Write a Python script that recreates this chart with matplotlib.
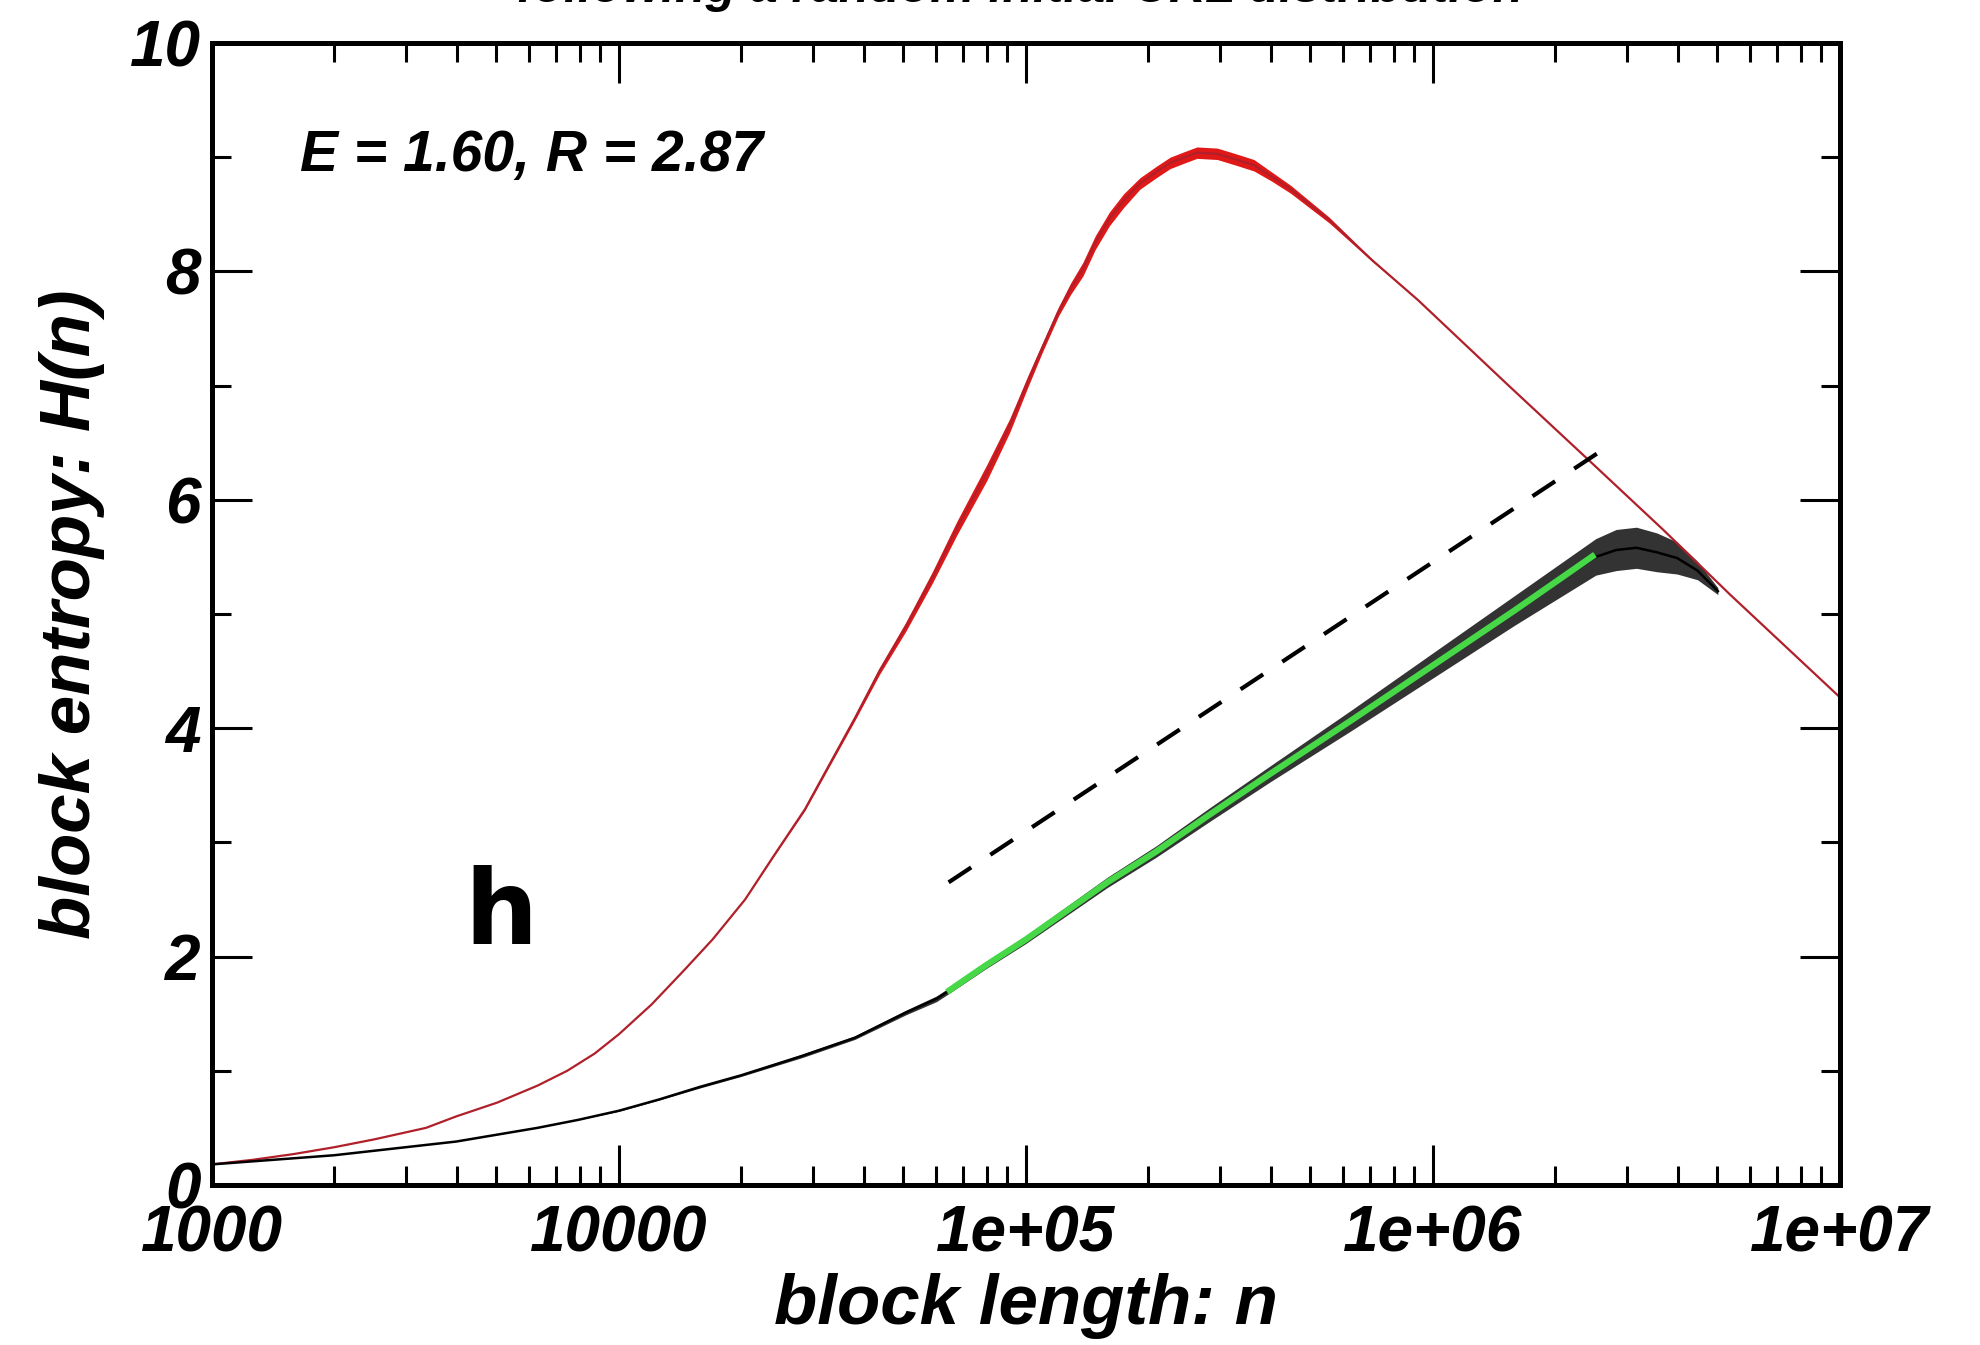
import numpy as np
import matplotlib
matplotlib.use("Agg")
import matplotlib.pyplot as plt
from matplotlib.ticker import LogLocator, NullFormatter, MultipleLocator

# red curve: log10(n), H(n), half-width of the noise band
red_logn = [3.0, 3.1, 3.2, 3.3, 3.4, 3.526, 3.6, 3.7, 3.8, 3.873, 3.94, 4.0, 4.08,
            4.16, 4.23, 4.31, 4.38, 4.457, 4.52, 4.58, 4.64, 4.705, 4.77, 4.83,
            4.904, 4.96, 5.005, 5.04, 5.08, 5.11, 5.14, 5.17, 5.205, 5.24, 5.28,
            5.32, 5.354, 5.39, 5.42, 5.47, 5.516, 5.56, 5.604, 5.65, 5.745, 5.85,
            5.963, 6.18, 6.40, 6.565, 6.73, 7.0]
red_h = [0.18, 0.22, 0.27, 0.33, 0.40, 0.50, 0.60, 0.72, 0.87, 1.0, 1.15, 1.32, 1.58,
         1.88, 2.15, 2.5, 2.88, 3.29, 3.7, 4.09, 4.5, 4.89, 5.32, 5.75,
         6.24, 6.65, 7.04, 7.33, 7.65, 7.85, 8.02, 8.25, 8.46, 8.62, 8.77,
         8.87, 8.95, 9.0, 9.04, 9.03, 8.98, 8.93, 8.83, 8.72, 8.45, 8.1,
         7.75, 7.02, 6.29, 5.74, 5.17, 4.27]
red_spread = [0, 0, 0, 0, 0, 0, 0, 0, 0, 0, 0, 0, 0,
              0, 0, 0, 0.005, 0.01, 0.015, 0.02, 0.03, 0.04, 0.05, 0.06,
              0.07, 0.06, 0.05, 0.04, 0.04, 0.05, 0.06, 0.06, 0.06, 0.06, 0.05,
              0.05, 0.05, 0.05, 0.05, 0.05, 0.05, 0.05, 0.04, 0.035, 0.025, 0.01,
              0, 0, 0, 0, 0, 0]

# black curve
blk_logn = [3.0, 3.15, 3.3, 3.45, 3.6, 3.7, 3.8, 3.9, 4.0, 4.1, 4.2, 4.3, 4.45,
            4.58, 4.705, 4.78, 4.806, 4.9, 5.0, 5.1, 5.2, 5.32, 5.45, 5.6, 5.8,
            6.0, 6.2, 6.4, 6.45, 6.5, 6.55, 6.6, 6.65, 6.7]
blk_h = [0.18, 0.22, 0.26, 0.32, 0.38, 0.44, 0.50, 0.57, 0.65, 0.75, 0.86, 0.96, 1.13,
         1.29, 1.51, 1.63, 1.69, 1.92, 2.15, 2.4, 2.65, 2.92, 3.24, 3.6, 4.07,
         4.55, 5.03, 5.5, 5.56, 5.58, 5.54, 5.49, 5.38, 5.2]
blk_spread = [0, 0, 0, 0, 0, 0, 0, 0, 0.005, 0.005, 0.01, 0.01, 0.015,
              0.015, 0.02, 0.025, 0.025, 0.03, 0.035, 0.04, 0.045, 0.05, 0.06, 0.07, 0.09,
              0.11, 0.13, 0.16, 0.18, 0.18, 0.17, 0.14, 0.08, 0.03]

# green fit
fit_logn = [4.806, 4.9, 5.0, 5.1, 5.2, 5.32, 5.45, 5.6, 5.8, 6.0, 6.2, 6.398]
fit_h = [1.69, 1.92, 2.15, 2.4, 2.65, 2.92, 3.24, 3.6, 4.07, 4.55, 5.03, 5.52]

# dashed guide
guide_logn = [4.81, 6.418]
guide_h = [2.65, 6.44]

xtick_vals = [1e3, 1e4, 1e5, 1e6, 1e7]
xtick_labels = ["1000", "10000", "1e+05", "1e+06", "1e+07"]
ytick_vals = [0, 2, 4, 6, 8, 10]

FONT = "Liberation Sans"
bi = dict(family=FONT, weight="bold", style="italic")

fig = plt.figure(figsize=(19.81, 13.45), dpi=100)
ax = fig.add_axes([0.107, 0.119, 0.8218, 0.849])

rn = 10 ** np.array(red_logn)
rh = np.array(red_h)
rs = np.array(red_spread)
ax.fill_between(rn, rh - rs, rh + rs, color="#e01818", lw=0)
ax.plot(rn, rh, color="#b0202a", lw=1.6)

bn = 10 ** np.array(blk_logn)
bh = np.array(blk_h)
bs = np.array(blk_spread)
ax.fill_between(bn, bh - bs, bh + bs, color="black", lw=0, alpha=0.8)
ax.plot(bn, bh, color="black", lw=1.8)

ax.plot(10 ** np.array(fit_logn), fit_h, color="#46d846", lw=4.5, solid_capstyle="butt")
ax.plot(10 ** np.array(guide_logn), guide_h, color="black", lw=3,
        linestyle=(0, (6.5, 5.5)))

ax.set_xscale("log")
ax.set_xlim(1e3, 1e7)
ax.set_ylim(0, 10)

ax.set_xticks(xtick_vals)
ax.set_xticklabels(xtick_labels)
ax.xaxis.set_minor_locator(LogLocator(base=10, subs=np.arange(2, 10)))
ax.xaxis.set_minor_formatter(NullFormatter())
ax.set_yticks(ytick_vals)
ax.set_yticklabels([str(v) for v in ytick_vals])
ax.yaxis.set_minor_locator(MultipleLocator(1))

ax.tick_params(which="both", direction="in", top=True, right=True, width=2.2)
ax.tick_params(which="major", length=29)
ax.tick_params(which="minor", length=14)
ax.tick_params(axis="x", which="major", pad=14)
ax.tick_params(axis="y", which="major", pad=8)
for lab in ax.get_xticklabels() + ax.get_yticklabels():
    lab.set_fontfamily(FONT)
    lab.set_fontweight("bold")
    lab.set_fontstyle("italic")
    lab.set_fontsize(46)
for sp in ax.spines.values():
    sp.set_linewidth(3.6)

ax.set_xlabel("block length: n", fontsize=51, labelpad=6, **bi)
ax.set_ylabel("block entropy: H(n)", fontsize=51, labelpad=18, **bi)

ax.text(0.054, 0.901, "E = 1.60, R = 2.87", transform=ax.transAxes,
        fontsize=41, va="center", ha="left", **bi)
ax.text(0.1775, 0.211, "h", transform=ax.transAxes, fontsize=74,
        family="DejaVu Sans", weight="bold", ha="center", va="baseline")

fig.text(0.515, 0.9985, "following a random initial CRL distribution",
         fontsize=36, ha="center", va="baseline", **bi)

fig.savefig("out.png", dpi=100)
